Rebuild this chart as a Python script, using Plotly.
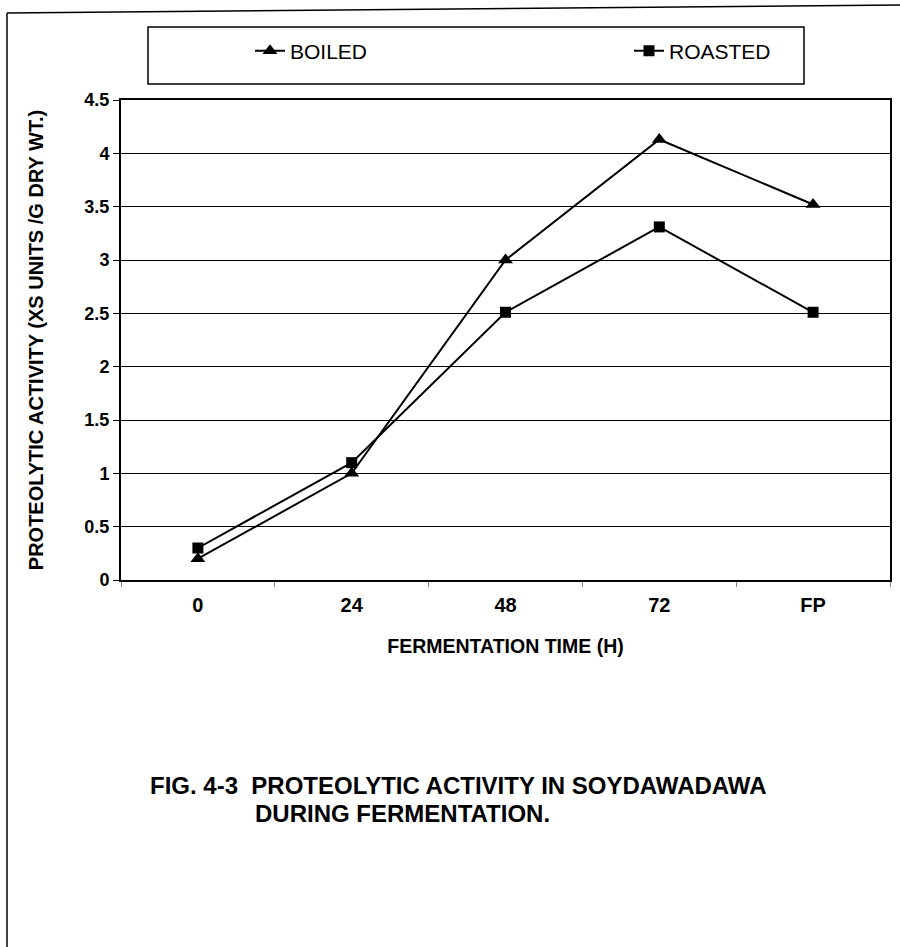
import plotly.graph_objects as go

categories = ["0", "24", "48", "72", "FP"]
boiled = [0.2, 1.0, 3.0, 4.13, 3.52]
roasted = [0.3, 1.1, 2.51, 3.31, 2.51]
y_ticks = [0, 0.5, 1, 1.5, 2, 2.5, 3, 3.5, 4, 4.5]
y_tick_labels = ["0", "0.5", "1", "1.5", "2", "2.5", "3", "3.5", "4", "4.5"]

W, H = 900, 947
L, R, T, B = 121, 890, 100, 580


def px(x):
    return (x - L) / (R - L)


def py(y):
    return (B - y) / (B - T)


FONT = "Liberation Sans, Arial, sans-serif"

fig = go.Figure()
fig.add_trace(go.Scatter(
    x=categories, y=boiled, name="BOILED", mode="lines+markers",
    line=dict(color="black", width=2),
    marker=dict(symbol="triangle-up", size=13, color="black"),
))
fig.add_trace(go.Scatter(
    x=categories, y=roasted, name="ROASTED", mode="lines+markers",
    line=dict(color="black", width=2),
    marker=dict(symbol="square", size=11, color="black"),
))

fig.update_layout(
    width=W, height=H,
    margin=dict(l=L, r=W - R, t=T, b=H - B, autoexpand=False),
    paper_bgcolor="white", plot_bgcolor="white",
    font=dict(family=FONT, color="black"),
    showlegend=True,
    legend=dict(
        orientation="h", x=px(250), y=py(51), xanchor="left", yanchor="middle",
        entrywidth=334, entrywidthmode="pixels",
        font=dict(size=21, family=FONT, color="black"),
        bgcolor="rgba(0,0,0,0)",
    ),
    xaxis=dict(
        type="category", range=[-0.5, 4.5],
        showline=True, linecolor="black", linewidth=2, mirror=True,
        showgrid=False, ticks="outside", tickson="boundaries", ticklen=5,
        tickcolor="#888", ticklabelstandoff=6,
        tickfont=dict(size=20, family=FONT, color="black", weight="bold"),
        title=dict(text="<b>FERMENTATION TIME (H)</b>",
                   font=dict(size=19.5, family=FONT, color="black"), standoff=24),
    ),
    yaxis=dict(
        range=[0, 4.5], tickmode="array", tickvals=y_ticks, ticktext=y_tick_labels,
        showline=True, linecolor="black", linewidth=2, mirror=True,
        showgrid=True, gridcolor="black", gridwidth=1,
        ticks="outside", ticklen=6, tickcolor="black",
        tickfont=dict(size=18, family=FONT, color="black", weight="bold"),
        title=dict(text="<b>PROTEOLYTIC ACTIVITY (XS UNITS /G DRY WT.)</b>",
                   font=dict(size=20, family=FONT, color="black"), standoff=35),
        zeroline=False,
    ),
    shapes=[
        dict(type="rect", xref="paper", yref="paper",
             x0=px(148), x1=px(804), y0=py(84), y1=py(27),
             line=dict(color="black", width=1.5), fillcolor="rgba(0,0,0,0)"),
        dict(type="line", xref="paper", yref="paper",
             x0=px(7), x1=px(900), y0=py(13), y1=py(5),
             line=dict(color="black", width=1.5)),
        dict(type="line", xref="paper", yref="paper",
             x0=px(7), x1=px(7), y0=py(13), y1=py(947),
             line=dict(color="black", width=1.5)),
    ],
    annotations=[
        dict(text="<b>FIG. 4-3  PROTEOLYTIC ACTIVITY IN SOYDAWADAWA</b>",
             xref="paper", yref="paper", x=px(148), y=py(785),
             xanchor="left", yanchor="middle", showarrow=False,
             font=dict(size=24, family=FONT, color="black")),
        dict(text="<b>DURING FERMENTATION.</b>",
             xref="paper", yref="paper", x=px(253), y=py(813),
             xanchor="left", yanchor="middle", showarrow=False,
             font=dict(size=24, family=FONT, color="black")),
    ],
)

fig.write_html("out.html")
